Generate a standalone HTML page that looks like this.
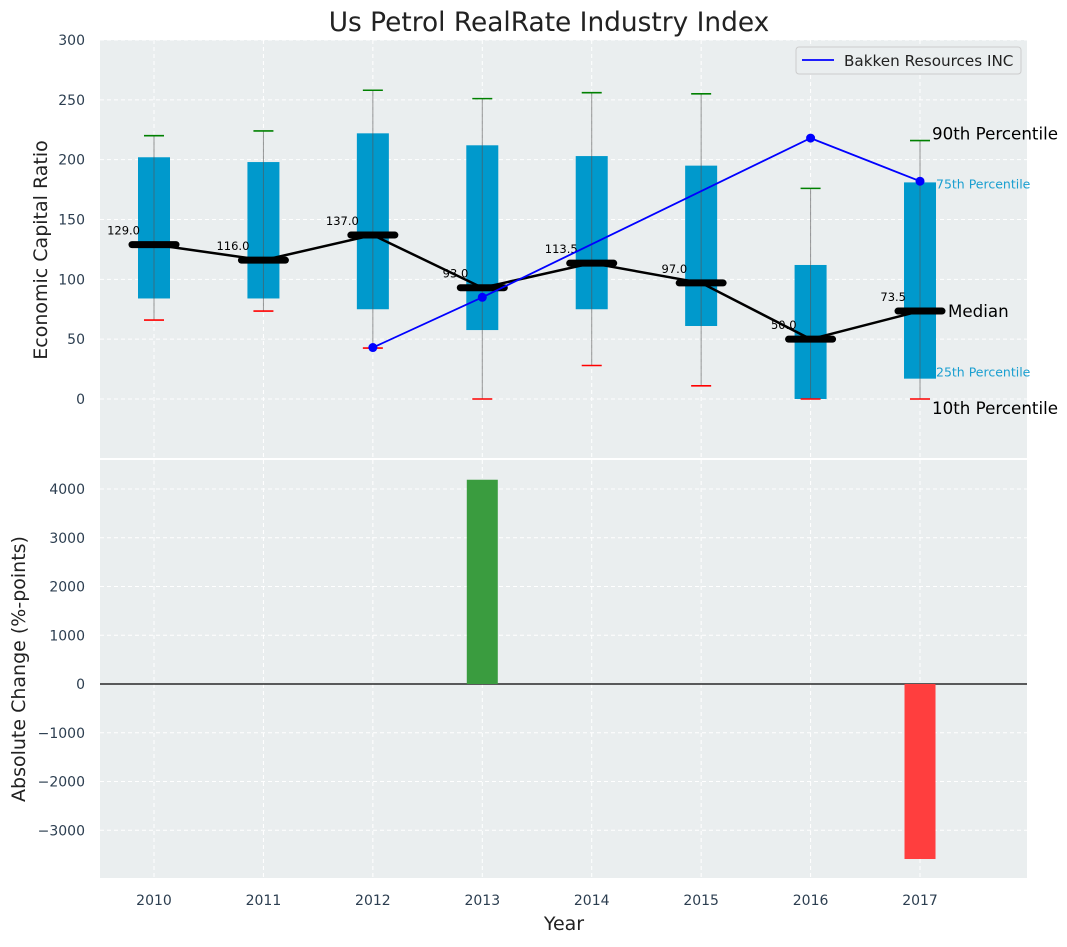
<!DOCTYPE html>
<html><head><meta charset="utf-8"><style>
body{margin:0;background:#fff;width:1067px;height:942px;overflow:hidden}
svg{font-family:"DejaVu Sans","Liberation Sans",sans-serif}
</style></head><body>
<svg id="c" width="1067" height="942" xmlns="http://www.w3.org/2000/svg"></svg>
<script>
const years=[2010,2011,2012,2013,2014,2015,2016,2017];
const p10=[66,73.5,42.6,0,28,11,0,0];
const p25=[84,84,75,57.6,75,61,0,17];
const medians=[129,116,137,93,113.5,97,50,73.5];
const p75=[202,198,222,212,203,195,112,181];
const p90=[220,224,258,251,256,255,176,216];
const bakkenYears=[2012,2013,2016,2017];
const bakkenVals=[43,85,218,182];
const changeYears=[2013,2017];
const changeVals=[4190,-3590];
const topTicks=[0,50,100,150,200,250,300];
const botTicks=[-3000,-2000,-1000,0,1000,2000,3000,4000];

const NS="http://www.w3.org/2000/svg";
const svg=document.getElementById('c');
function el(t,a,p){const e=document.createElementNS(NS,t);for(const k in a)e.setAttribute(k,a[k]);(p||svg).appendChild(e);return e;}
function tx(x,y,s,a){const e=el('text',Object.assign({x:x,y:y},a));e.textContent=s;return e;}
const X0=100,X1=1027;
const xs=y=>154+(y-2010)*109.43;
const yt=v=>399-v*1.1967;
const yb=v=>684-v*0.04875;

let r=el('rect',{x:X0,y:40,width:X1-X0,height:418,fill:'#eaeeef'});

r=el('rect',{x:X0,y:460,width:X1-X0,height:418,fill:'#eaeeef'});


years.forEach(y=>{
 el('line',{x1:xs(y),x2:xs(y),y1:40,y2:458,stroke:'#fff','stroke-dasharray':'4,3'});
 el('line',{x1:xs(y),x2:xs(y),y1:460,y2:878,stroke:'#fff','stroke-dasharray':'4,3'});
});
topTicks.forEach(v=>{
 el('line',{x1:X0,x2:X1,y1:yt(v),y2:yt(v),stroke:'#fff','stroke-dasharray':'4,3'});
 const t=tx(85,yt(v)+5,v,{'text-anchor':'end','font-size':14,fill:'#2c3e50'});
 
});
botTicks.forEach(v=>{
 el('line',{x1:X0,x2:X1,y1:yb(v),y2:yb(v),stroke:'#fff','stroke-dasharray':'4,3'});
 const t=tx(85,yb(v)+5,String(v).replace('-','\u2212'),{'text-anchor':'end','font-size':14,fill:'#2c3e50'});
 
});
years.forEach(y=>{
 const t=tx(xs(y),905,y,{'text-anchor':'middle','font-size':14,fill:'#2c3e50'});
 
});

years.forEach((y,i)=>{
 const x=xs(y);
 const b=el('rect',{x:x-16,y:yt(p75[i]),width:32,height:yt(p25[i])-yt(p75[i]),fill:'#0099cc'});
 
 el('line',{x1:x,x2:x,y1:yt(p90[i]),y2:yt(p10[i]),stroke:'#555','stroke-width':1,opacity:0.6});
 el('line',{x1:x-10,x2:x+10,y1:yt(p90[i]),y2:yt(p90[i]),stroke:'green','stroke-width':1.6});
 el('line',{x1:x-10,x2:x+10,y1:yt(p10[i]),y2:yt(p10[i]),stroke:'red','stroke-width':1.6});
});
let pts=years.map((y,i)=>xs(y)+','+yt(medians[i])).join(' ');
r=el('polyline',{points:pts,fill:'none',stroke:'#000','stroke-width':2.5});

years.forEach((y,i)=>{
 const x=xs(y),v=yt(medians[i]);
 const m=el('line',{x1:x-22,x2:x+22,y1:v,y2:v,stroke:'#000','stroke-width':7,'stroke-linecap':'round'});
 
 const t=tx(x-14,v-10,medians[i].toFixed(1),{'text-anchor':'end','font-size':11.5,fill:'#000'});
 
});
pts=bakkenYears.map((y,i)=>xs(y)+','+yt(bakkenVals[i])).join(' ');
r=el('polyline',{points:pts,fill:'none',stroke:'blue','stroke-width':1.8});

bakkenYears.forEach((y,i)=>{
 const c=el('circle',{cx:xs(y),cy:yt(bakkenVals[i]),r:4.5,fill:'blue'});
 
});
const L=years.length-1,lx=xs(years[L]);
tx(lx+12,yt(p90[L])-1,'90th Percentile',{'font-size':16.7,fill:'#000'});
tx(lx+16,yt(p75[L])+6,'75th Percentile',{'font-size':12.5,fill:'#1a9fd0'});
tx(lx+28,yt(medians[L])+6,'Median',{'font-size':16.7,fill:'#000'});
tx(lx+16,yt(p25[L])-2,'25th Percentile',{'font-size':12.5,fill:'#1a9fd0'});
tx(lx+12,yt(p10[L])+15,'10th Percentile',{'font-size':16.7,fill:'#000'});

const lg=el('g',{});

el('rect',{x:796,y:47,width:225,height:27,rx:3,fill:'#eaeeef',stroke:'#ccc'},lg);
el('line',{x1:802,x2:834,y1:60,y2:60,stroke:'blue','stroke-width':1.8},lg);
tx(844,66,'Bakken Resources INC',{'font-size':15.2,fill:'#222'},lg);

el('line',{x1:X0,x2:X1,y1:yb(0),y2:yb(0),stroke:'#000','stroke-width':1.2});
changeYears.forEach((y,i)=>{
 const v=changeVals[i];
 const b=el('rect',{x:xs(y)-15.5,y:Math.min(yb(v),yb(0)),width:31,height:Math.abs(yb(v)-yb(0)),fill:v>=0?'#3a9c3f':'#ff3e3e'});
 
});

let t=tx(549,31,'Us Petrol RealRate Industry Index',{'text-anchor':'middle','font-size':26.4,fill:'#222'});

t=tx(47,250,'Economic Capital Ratio',{'text-anchor':'middle','font-size':19,fill:'#222',transform:'rotate(-90 47 250)'});

t=tx(25,669,'Absolute Change (%-points)',{'text-anchor':'middle','font-size':19,fill:'#222',transform:'rotate(-90 25 669)'});

t=tx(564,930,'Year',{'text-anchor':'middle','font-size':19,fill:'#222'});

</script>
</body></html>
